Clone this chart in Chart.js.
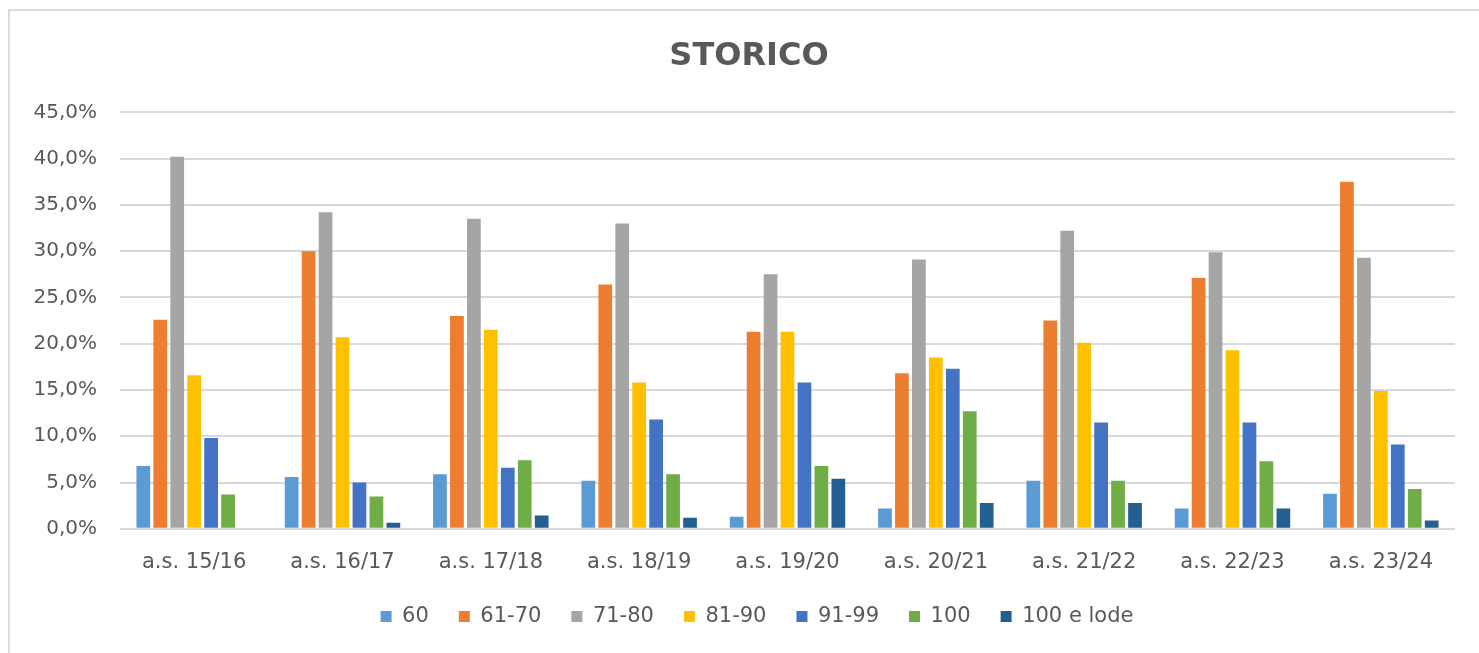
<!DOCTYPE html>
<html>
<head>
<meta charset="utf-8">
<script src="https://cdn.jsdelivr.net/npm/chart.js@4"></script>
<style>
html,body{margin:0;padding:0;background:#fff;}
#wrap{position:absolute;left:0;top:0;width:1479px;height:653px;}
#frame{position:absolute;left:8px;top:9px;width:1480px;height:660px;border:2px solid #dcdcdc;box-sizing:border-box;}
canvas{position:absolute;left:0;top:0;}
</style>
</head>
<body>
<div id="wrap">
<div id="frame"></div>
<canvas id="c" width="1479" height="653"></canvas>
</div>
<script>
const categories = ["a.s. 15/16","a.s. 16/17","a.s. 17/18","a.s. 18/19","a.s. 19/20","a.s. 20/21","a.s. 21/22","a.s. 22/23","a.s. 23/24"];
const seriesNames = ["60","61-70","71-80","81-90","91-99","100","100 e lode"];
const s60     = [6.8, 5.6, 5.9, 5.2, 1.3, 2.2, 5.2, 2.2, 3.8];
const s61_70  = [22.6, 30.0, 23.0, 26.4, 21.3, 16.8, 22.5, 27.1, 37.5];
const s71_80  = [40.2, 34.2, 33.5, 33.0, 27.5, 29.1, 32.2, 29.9, 29.3];
const s81_90  = [16.6, 20.7, 21.5, 15.8, 21.3, 18.5, 20.1, 19.3, 14.9];
const s91_99  = [9.8, 5.0, 6.6, 11.8, 15.8, 17.3, 11.5, 11.5, 9.1];
const s100    = [3.7, 3.5, 7.4, 5.9, 6.8, 12.7, 5.2, 7.3, 4.3];
const s100lode= [0, 0.65, 1.45, 1.2, 5.4, 2.8, 2.8, 2.2, 0.9];
const yTicks  = [0, 5, 10, 15, 20, 25, 30, 35, 40, 45];
const colors = ["#5B9BD5","#ED7D31","#A5A5A5","#FFC000","#4472C4","#70AD47","#255E91"];
const allSeries = [s60, s61_70, s71_80, s81_90, s91_99, s100, s100lode];

const FONT = "'DejaVu Sans', sans-serif";
const TXT = "#595959";

// nudge title and legend horizontally so they centre like the original
const centerShift = {
  id: 'centerShift',
  afterLayout(chart) {
    if (chart.titleBlock) { chart.titleBlock.left += 8; chart.titleBlock.right += 8; }
    if (chart.legend) { chart.legend.left += 16; chart.legend.right += 16; }
  }
};

new Chart(document.getElementById('c'), {
  type: 'bar',
  data: {
    labels: categories,
    datasets: allSeries.map((d,i)=>({
      label: seriesNames[i],
      data: d,
      backgroundColor: colors[i],
      borderWidth: 0,
      categoryPercentage: 0.80,
      barPercentage: 0.81
    }))
  },
  plugins: [centerShift],
  options: {
    responsive: false,
    animation: false,
    devicePixelRatio: 1,
    layout: { padding: { left: 27, right: 24, top: 20, bottom: 16 } },
    plugins: {
      title: {
        display: true,
        text: 'STORICO',
        color: TXT,
        font: { family: FONT, size: 32, weight: 'bold' },
        padding: { top: 17, bottom: 37 }
      },
      legend: {
        display: true,
        position: 'bottom',
        labels: {
          color: TXT,
          font: { family: FONT, size: 21 },
          boxWidth: 11,
          boxHeight: 11,
          padding: 10,
          generateLabels: (chart) => {
            const items = Chart.defaults.plugins.legend.labels.generateLabels(chart);
            items.forEach((it, i) => { if (i < items.length - 1) it.text = it.text + '   '; });
            return items;
          }
        }
      },
      tooltip: { enabled: false }
    },
    scales: {
      x: {
        grid: { display: false, drawTicks: false },
        border: { display: false },
        ticks: { color: TXT, font: { family: FONT, size: 21 }, padding: 21 }
      },
      y: {
        min: 0, max: 45,
        afterFit: (scale) => { scale.width = 93; },
        afterBuildTicks: (scale) => { scale.ticks = yTicks.map(v => ({ value: v })); },
        ticks: {
          color: TXT,
          font: { family: FONT, size: 20 },
          padding: 23,
          callback: v => v.toFixed(1).replace('.', ',') + '%'
        },
        grid: { color: '#D9D9D9', lineWidth: 2, drawTicks: false },
        border: { display: false }
      }
    }
  }
});
</script>
</body>
</html>
